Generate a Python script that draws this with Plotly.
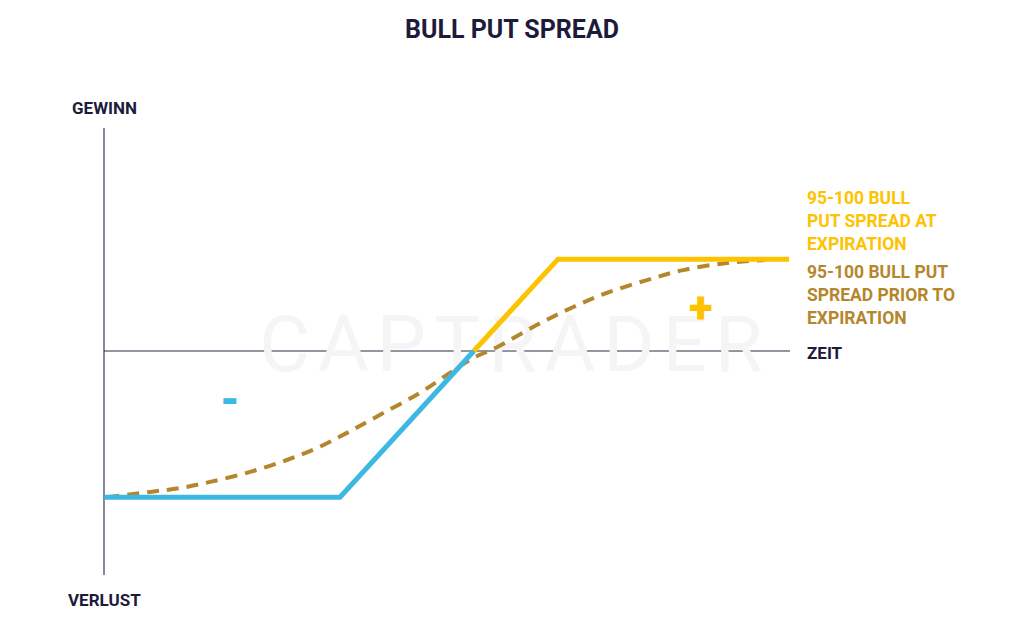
import plotly.graph_objects as go

# Data (price vs. profit/loss)
loss_x = [89.6, 95.0, 98.07]
loss_y = [-3.07, -3.07, 0.0]
gain_x = [98.07, 100.0, 105.3]
gain_y = [0.0, 1.93, 1.93]
prior_x = [89.66, 90.64, 91.33, 92.02, 92.94, 93.78, 94.47, 95.16, 95.92, 96.83,
           97.52, 98.05, 98.60, 99.52, 100.34, 101.12, 102.04, 102.87, 103.88, 104.75]
prior_y = [-3.07, -2.96, -2.88, -2.75, -2.54, -2.29, -2.04, -1.72, -1.34, -0.88,
           -0.46, -0.15, 0.08, 0.55, 0.92, 1.22, 1.49, 1.70, 1.85, 1.91]

title_text = "BULL PUT SPREAD"
label_gain = "GEWINN"
label_loss = "VERLUST"
label_time = "ZEIT"
legend_expiry = "95-100 BULL<br>PUT SPREAD AT<br>EXPIRATION"
legend_prior = "95-100 BULL PUT<br>SPREAD PRIOR TO<br>EXPIRATION"
watermark = "C\u200aA\u200aP\u200aT\u200aR\u200aA\u200aD\u200aE\u200aR"

NAVY = "#1d1b3b"
YELLOW = "#FDC300"
BROWN = "#B5862B"
BLUE = "#3DB8E3"

OFF = 8  # page body margin
W, H = 1024 - OFF, 624 - OFF
xpx = 218 / 5.0
ypx = 47.6
x0 = 95 - (340 - OFF) / xpx
x1 = x0 + W / xpx
ytop = (351 - OFF) / ypx
ybot = ytop - H / ypx

def dx(p):
    return x0 + (p - OFF) / xpx

def dy(p):
    return ytop - (p - OFF) / ypx

fig = go.Figure()
# watermark behind the lines
fig.add_trace(go.Scatter(x=[dx(511)], y=[dy(351)], mode="text", text=[watermark],
                         textposition="middle center",
                         textfont=dict(size=78, color="#f5f5f5", family="Roboto", weight=400),
                         hoverinfo="skip"))
fig.add_trace(go.Scatter(x=prior_x, y=prior_y, mode="lines", line=dict(color=BROWN, width=4, dash="12px,8px", shape="spline"), hoverinfo="skip"))
fig.add_trace(go.Scatter(x=loss_x, y=loss_y, mode="lines", line=dict(color=BLUE, width=5), hoverinfo="skip"))
fig.add_trace(go.Scatter(x=gain_x, y=gain_y, mode="lines", line=dict(color=YELLOW, width=5), hoverinfo="skip"))

fig.add_shape(type="line", x0=dx(104), x1=dx(104), y0=dy(128), y1=dy(575),
              line=dict(color="#3a3652", width=1.2), layer="below")
fig.add_shape(type="line", x0=dx(104), x1=dx(790), y0=0, y1=0,
              line=dict(color="#2e2b45", width=1.2), layer="below")

annos = []
def ann(text, x, y, size, color, xanchor="center", weight="bold", family="Roboto"):
    annos.append(dict(text=text, x=(x - OFF) / W, y=1 - (y - OFF) / H, xref="paper", yref="paper",
                      showarrow=False, xanchor=xanchor, yanchor="middle", align="left",
                      font=dict(size=size, color=color, family=family, weight=weight)))

ann(title_text, 512, 30, 25, NAVY)
ann(label_gain, 104, 108, 17, NAVY)
ann(label_loss, 104, 600, 17, NAVY)
ann(label_time, 805, 353, 17, NAVY, xanchor="left")
ann(legend_expiry, 805, 221, 17.5, YELLOW, xanchor="left")
ann(legend_prior, 805, 295, 17.5, BROWN, xanchor="left")
ann("+", 701, 308, 44, YELLOW, weight=900)
ann("-", 230, 400, 44, BLUE, weight=900)

fig.update_layout(
    width=W, height=H,
    margin=dict(l=0, r=0, t=0, b=0),
    paper_bgcolor="white", plot_bgcolor="white",
    showlegend=False,
    xaxis=dict(range=[x0, x1], visible=False, fixedrange=True),
    yaxis=dict(range=[ybot, ytop], visible=False, fixedrange=True),
    annotations=annos,
)
fig.write_html("out.html")
